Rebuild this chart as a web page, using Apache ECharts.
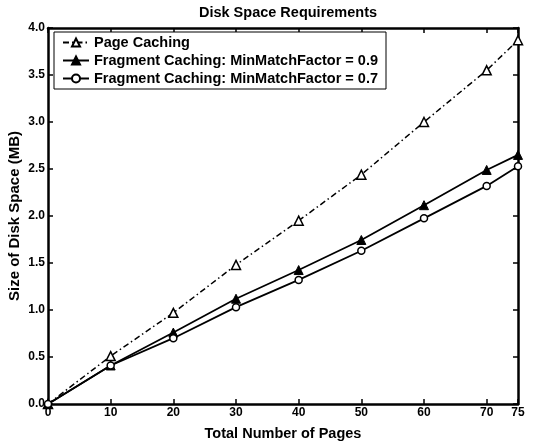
<!DOCTYPE html>
<html><head><meta charset="utf-8">
<script src="https://cdn.jsdelivr.net/npm/echarts@6/dist/echarts.min.js"></script>
<style>html,body{margin:0;padding:0;background:#fff}#c{width:533px;height:443px}</style>
</head><body><div id="c"></div>
<script>
const pages = [0, 10, 20, 30, 40, 50, 60, 70, 75];
const pageCaching = [0, 0.51, 0.97, 1.48, 1.95, 2.44, 3.0, 3.55, 3.87];
const frag09 = [0, 0.41, 0.76, 1.12, 1.425, 1.745, 2.115, 2.49, 2.65];
const frag07 = [0, 0.41, 0.70, 1.03, 1.32, 1.63, 1.975, 2.32, 2.53];
const seriesNames = ['Page Caching', 'Fragment Caching: MinMatchFactor = 0.9', 'Fragment Caching: MinMatchFactor = 0.7'];

const font = 'Liberation Sans, Arial, Helvetica, sans-serif';
const pair = (arr) => pages.map((x, i) => [x, arr[i]]);
const chart = echarts.init(document.getElementById('c'), null, {renderer: 'canvas'});
const axisCommon = {
  type: 'value', splitLine: {show: false},
  axisLine: {show: true, onZero: false, lineStyle: {color: '#000', width: 2.5}},
  axisTick: {show: true, inside: true, length: 5, lineStyle: {color: '#000', width: 1.5}}
};
chart.setOption({
  animation: false,
  backgroundColor: '#fff',
  title: {text: 'Disk Space Requirements', left: 283, textAlign: 'center', top: 0,
    textStyle: {fontFamily: font, fontWeight: 'bold', fontSize: 14.5, color: '#000'}},
  grid: {left: 48, right: 15, top: 28, bottom: 39, containLabel: false, outerBoundsMode: 'none'},
  legend: {
    left: 54, top: 32, orient: 'vertical', itemGap: 3, itemWidth: 26, itemHeight: 10,
    padding: [3, 8, 3, 8], borderColor: '#000', borderWidth: 1, backgroundColor: '#fff',
    textStyle: {fontFamily: font, fontWeight: 'bold', fontSize: 14.5, color: '#000'},
    data: seriesNames
  },
  xAxis: [
    Object.assign({}, axisCommon, {min: 0, max: 75, interval: 10, position: 'bottom',
      name: 'Total Number of Pages', nameLocation: 'middle', nameGap: 22,
      nameTextStyle: {fontFamily: font, fontWeight: 'bold', fontSize: 14.5, color: '#000'},
      axisLabel: {fontFamily: font, fontWeight: 'bold', fontSize: 12, color: '#000', margin: 3, showMaxLabel: true}}),
    Object.assign({}, axisCommon, {min: 0, max: 75, interval: 10, position: 'top', axisLabel: {show: false}})
  ],
  yAxis: [
    Object.assign({}, axisCommon, {min: 0, max: 4, interval: 0.5, position: 'left',
      name: 'Size of Disk Space (MB)', nameLocation: 'middle', nameGap: 26, nameRotate: 90,
      nameMoveOverlap: false,
      nameTextStyle: {fontFamily: font, fontWeight: 'bold', fontSize: 15, color: '#000'},
      axisLabel: {fontFamily: font, fontWeight: 'bold', fontSize: 12, color: '#000', margin: 3,
        formatter: (v) => v.toFixed(1)}}),
    Object.assign({}, axisCommon, {min: 0, max: 4, interval: 0.5, position: 'right', axisLabel: {show: false}})
  ],
  series: [
    {name: seriesNames[0], type: 'line', data: pair(pageCaching), symbol: 'triangle', symbolSize: 9,
      lineStyle: {color: '#000', width: 1.5, type: [6, 3, 1.5, 3]},
      itemStyle: {color: '#fff', borderColor: '#000', borderWidth: 1.5}, z: 3},
    {name: seriesNames[1], type: 'line', data: pair(frag09), symbol: 'triangle', symbolSize: 9,
      lineStyle: {color: '#000', width: 1.8},
      itemStyle: {color: '#000', borderColor: '#000', borderWidth: 1}, z: 4},
    {name: seriesNames[2], type: 'line', data: pair(frag07), symbol: 'circle', symbolSize: 7,
      lineStyle: {color: '#000', width: 1.8},
      itemStyle: {color: '#fff', borderColor: '#000', borderWidth: 1.5}, z: 5}
  ]
});
</script></body></html>
